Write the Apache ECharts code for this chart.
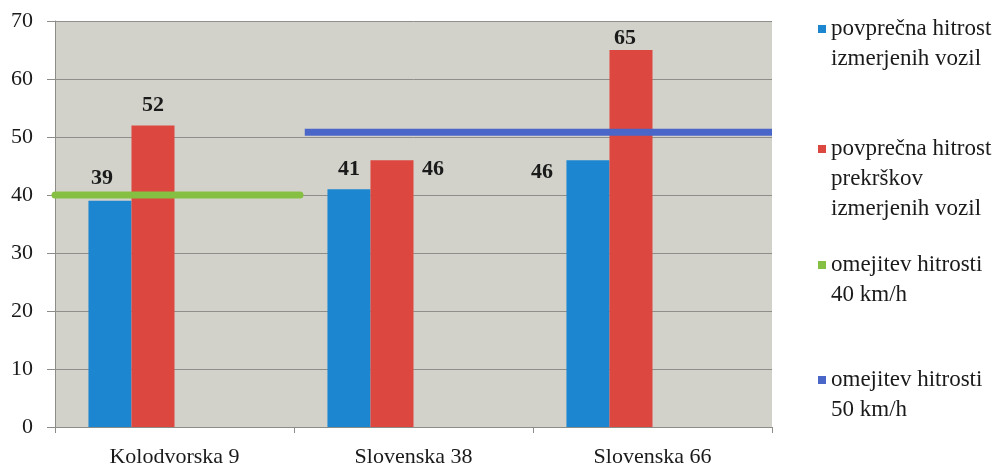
<!DOCTYPE html>
<html>
<head>
<meta charset="utf-8">
<script src="https://cdn.jsdelivr.net/npm/echarts@6/dist/echarts.min.js"></script>
<style>
  html, body { margin: 0; padding: 0; background: #fff; }
  #chart { width: 1004px; height: 468px; }
</style>
</head>
<body>
<div id="chart"></div>
<script>
  // podatki
  const categories = ['Kolodvorska 9', 'Slovenska 38', 'Slovenska 66']
  const avgSpeed = [39, 41, 46]
  const avgOffence = [52, 46, 65]
  // omejitve: [x na pomozni osi 0..3, hitrost]
  const limit40 = [[0, 40], [1.025, 40]]
  const limit50 = [[1.045, 50.8], [3, 50.8]]
  const yTicks = [0, 10, 20, 30, 40, 50, 60, 70]

  const names = [
    'povprečna hitrost\nizmerjenih vozil',
    'povprečna hitrost\nprekrškov\nizmerjenih vozil',
    'omejitev hitrosti\n40 km/h',
    'omejitev hitrosti\n50 km/h'
  ]

  const serif = 'Liberation Serif'
  const LH = 30

  // label tweaks (px) per bar
  const blueLabel = [[-8, 2], [0, 4], [-46, 36]]
  const redLabel = [[0, 4], [41, 33], [-6, 12]]

  function withLabels (vals, tweaks) {
    return vals.map((v, i) => ({value: v, label: {offset: tweaks[i]}}))
  }

  // square icon next to the first text line
  function legendAt (name, top) {
    const n = name.split('\n').length
    const h = n * LH
    return {
      data: [name],
      left: 818,
      top: top,
      padding: 0,
      orient: 'vertical',
      itemWidth: 8,
      itemHeight: h,
      icon: 'path://M0 0M0 11L8 11L8 19L0 19ZM8 ' + h,
      selectedMode: false,
      textStyle: {
        fontFamily: serif,
        fontSize: 23,
        lineHeight: LH,
        color: '#1a1a1a'
      }
    }
  }

  const chart = echarts.init(document.getElementById('chart'), null, {renderer: 'canvas'})
  chart.setOption({
    animation: false,
    legend: [
      legendAt(names[0], 14),
      legendAt(names[1], 134),
      legendAt(names[2], 250),
      legendAt(names[3], 365)
    ],
    grid: {
      left: 55, right: 232, top: 21, bottom: 41,
      show: true, backgroundColor: '#d2d2ca', borderWidth: 0
    },
    xAxis: [{
      type: 'category',
      data: categories,
      axisLine: {lineStyle: {color: '#8c8c88', width: 1}},
      axisTick: {show: true, length: 6, lineStyle: {color: '#8c8c88'}},
      axisLabel: {fontFamily: serif, fontSize: 22, color: '#1a1a1a', margin: 19}
    }, {
      type: 'value',
      min: 0, max: 3,
      show: false
    }],
    yAxis: {
      type: 'value',
      min: yTicks[0], max: yTicks[yTicks.length - 1], interval: 10,
      axisLine: {show: true, lineStyle: {color: '#8c8c88'}},
      axisTick: {show: true, length: 8, lineStyle: {color: '#8c8c88'}},
      axisLabel: {fontFamily: serif, fontSize: 22, color: '#1a1a1a', margin: 22},
      splitLine: {lineStyle: {color: '#8e8e8a', width: 1}}
    },
    series: [{
      name: names[0],
      type: 'bar',
      barGap: 0,
      barCategoryGap: '28%',
      itemStyle: {color: '#1d86d0'},
      label: {
        show: true, position: 'top', distance: 13,
        fontFamily: serif, fontSize: 22, fontWeight: 'bold', color: '#1a1a1a'
      },
      data: withLabels(avgSpeed, blueLabel)
    }, {
      name: names[1],
      type: 'bar',
      itemStyle: {color: '#dc4740'},
      label: {
        show: true, position: 'top', distance: 13,
        fontFamily: serif, fontSize: 22, fontWeight: 'bold', color: '#1a1a1a'
      },
      data: withLabels(avgOffence, redLabel)
    }, {
      // prazna mesta za omejitve (kot v Excelu)
      type: 'bar', silent: true, data: ['-', '-', '-']
    }, {
      type: 'bar', silent: true, data: ['-', '-', '-']
    }, {
      name: names[2],
      type: 'line',
      xAxisIndex: 1,
      symbol: 'none',
      color: '#86c043',
      lineStyle: {color: '#86c043', width: 7, cap: 'round'},
      data: limit40
    }, {
      name: names[3],
      type: 'line',
      xAxisIndex: 1,
      symbol: 'none',
      color: '#4a66c8',
      lineStyle: {color: '#4a66c8', width: 7},
      data: limit50
    }]
  })
</script>
</body>
</html>
